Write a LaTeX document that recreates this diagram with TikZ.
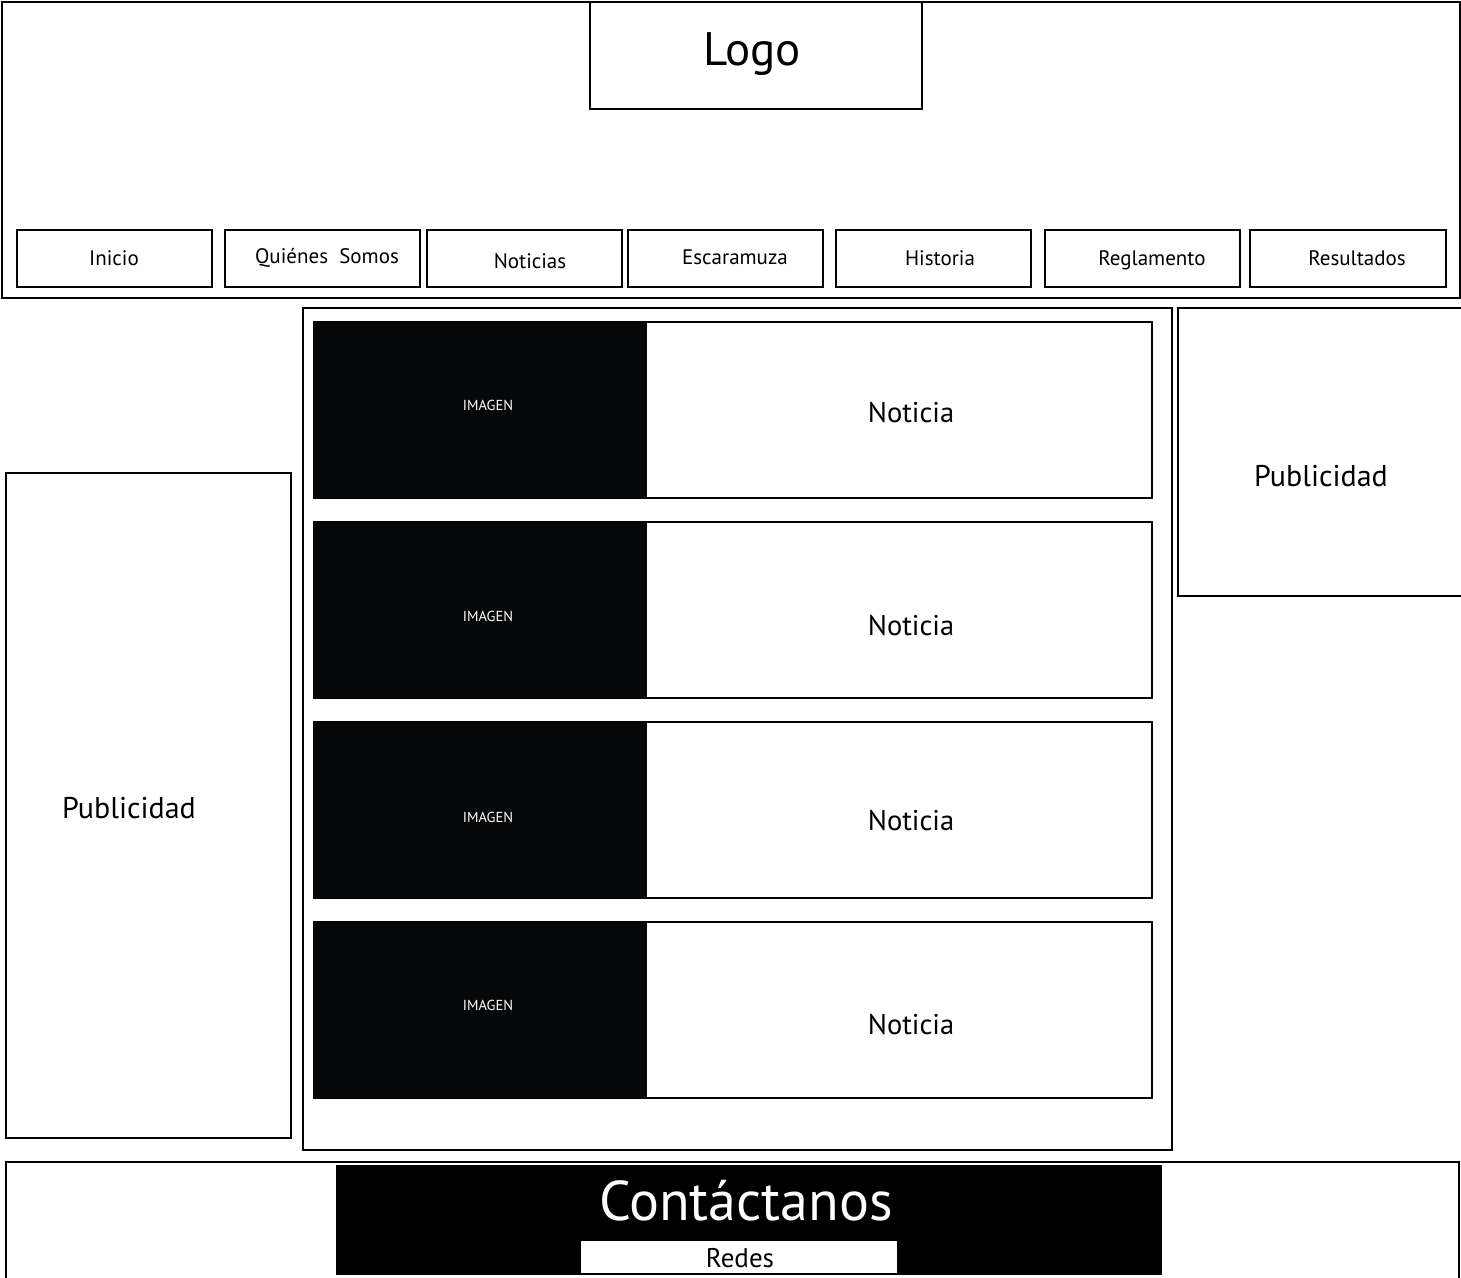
\documentclass[tikz,border=0pt]{standalone}
\usepackage{fontspec}
\setmainfont{PT Sans}
\newcommand{\tamano}[1]{\fontsize{#1}{#1}\selectfont}
\definecolor{negroimg}{RGB}{6,7,9}

\begin{document}
\begin{tikzpicture}[x=1pt, y=-1pt, line width=1.6pt,
		caja/.style={draw=black},
		boton/.style={font=\tamano{21}},
		grande/.style={font=\tamano{28.5}},
		imagen/.style={fill=negroimg, draw=none},
		etiqueta/.style={font=\tamano{14.5}, text=white}]
			\useasboundingbox (0, 0) rectangle (1461, 1277);

			% cabecera
			\draw[caja] (2, 2) rectangle (1460, 298);
			\draw[caja] (590, 2) rectangle (922, 109);
			\node[font=\tamano{47}] (logo) at (752, 54) {Logo};

			\draw[caja] (17, 230) rectangle (212, 287);
			\draw[caja] (225, 230) rectangle (420, 287);
			\draw[caja] (427, 230) rectangle (622, 287);
			\draw[caja] (628, 230) rectangle (823, 287);
			\draw[caja] (836, 230) rectangle (1031, 287);
			\draw[caja] (1045, 230) rectangle (1240, 287);
			\draw[caja] (1250, 230) rectangle (1446, 287);
			\node[boton] (inicio) at (114, 258) {Inicio};
			\node[boton] (quienes) at (327, 258) {Quiénes\ \ Somos};
			\node[boton] (noticias) at (530, 261) {Noticias};
			\node[boton] (escaramuza) at (735, 257) {Escaramuza};
			\node[boton] (historia) at (940, 258) {Historia};
			\node[boton] (reglamento) at (1152, 260) {Reglamento};
			\node[boton] (resultados) at (1357, 258) {Resultados};

			% publicidad
			\draw[caja] (6, 473) rectangle (291, 1138);
			\node[grande, font=\tamano{30}] (pubizq) at (129, 808) {Publicidad};
			\draw[caja] (1178, 308) rectangle (1470, 596);
			\node[grande, font=\tamano{30}] (pubder) at (1321, 476) {Publicidad};

			% noticias
			\draw[caja] (303, 308) rectangle (1172, 1150);

			\draw[caja] (314, 322) rectangle (1152, 498);
			\fill[imagen] (314, 322) rectangle (647, 498);
			\node[etiqueta] (img1) at (488, 405) {IMAGEN};
			\node[grande] (not1) at (911, 413) {Noticia};

			\draw[caja] (314, 522) rectangle (1152, 698);
			\fill[imagen] (314, 522) rectangle (647, 698);
			\node[etiqueta] (img2) at (488, 616) {IMAGEN};
			\node[grande] (not2) at (911, 626) {Noticia};

			\draw[caja] (314, 722) rectangle (1152, 898);
			\fill[imagen] (314, 722) rectangle (647, 898);
			\node[etiqueta] (img3) at (488, 817) {IMAGEN};
			\node[grande] (not3) at (911, 821) {Noticia};

			\draw[caja] (314, 922) rectangle (1152, 1098);
			\fill[imagen] (314, 922) rectangle (647, 1098);
			\node[etiqueta] (img4) at (488, 1005) {IMAGEN};
			\node[grande] (not4) at (911, 1025) {Noticia};

			% pie
			\draw[caja] (6, 1162) rectangle (1459, 1290);
			\fill[black] (336, 1165) rectangle (1162, 1275);
			\node[font=\tamano{56}, text=white] (contacto) at (746, 1201) {Contáctanos};
			\fill[white] (581, 1241) rectangle (897, 1273);
			\node[font=\tamano{27}] (redes) at (740, 1258) {Redes};
		\end{tikzpicture}
\end{document}
